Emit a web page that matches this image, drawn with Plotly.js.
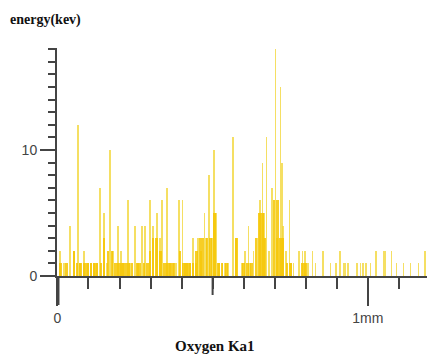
<!DOCTYPE html>
<html><head><meta charset="utf-8">
<script src="https://cdn.plot.ly/plotly-3.0.1.min.js"></script>
<style>html,body{margin:0;padding:0;background:#fff}#c{width:427px;height:358px}</style>
</head><body><div id="c"></div>
<script>
// Thin peaks: position (mm) and counts
const peakPos = [0.008,0.021,0.040,0.053,0.066,0.073,0.085,0.098,0.108,0.118,0.127,0.137,0.150,0.160,0.169,0.179,0.195,0.205,0.211,0.227,0.234,0.250,0.260,0.273,0.282,0.298,0.308,0.321,0.331,0.337,0.353,0.363,0.373,0.382,0.392,0.402,0.411,0.418,0.427,0.437,0.447,0.453,0.463,0.473,0.479,0.489,0.498,0.505,0.511,0.521,0.531,0.540,0.550,0.566,0.576,0.595,0.605,0.615,0.621,0.631,0.644,0.653,0.660,0.666,0.673,0.682,0.692,0.702,0.708,0.718,0.724,0.727,0.737,0.747,0.753,0.760,0.779,0.789,0.798,0.808,0.821,0.831,0.856,0.879,0.898,0.911,0.921,0.927,0.937,0.966,0.976,0.985,0.995,1.008,1.027,1.050,1.056,1.076,1.092,1.115,1.137,1.163,1.185];
const peakVal = [2,1,4,2,12,1,2,1,1,1,1,7,5,1,10,2,4,2,1,6,1,4,1,4,4,6,4,5,3,6,7,1,1,1,6,6,1,1,1,3,1,3,2,5,3,8,3,10,5,1,1,1,1,11,3,1,2,4,1,2,3,6,9,5,11,2,7,18,3,15,9,4,2,6,1,1,2,2,2,1,2,1,2,1,1,2,1,1,1,1,1,1,1,1,2,2,2,2,1,1,1,1,2];
// Dense low counts (saturated band)
const densePos = [0.010,0.030,0.053,0.063,0.075,0.088,0.098,0.108,0.118,0.127,0.140,0.150,0.163,0.176,0.186,0.195,0.202,0.212,0.221,0.230,0.240,0.256,0.265,0.279,0.289,0.298,0.308,0.318,0.331,0.344,0.355,0.365,0.375,0.395,0.405,0.415,0.425,0.437,0.447,0.460,0.469,0.482,0.492,0.505,0.520,0.530,0.545,0.576,0.600,0.612,0.625,0.640,0.650,0.660,0.669,0.698,0.708,0.718,0.727,0.740,0.750,0.790,0.800];
const denseVal = [1,1,2,1,1,1,1,1,1,1,1,3,2,2,1,1,1,1,1,1,1,1,1,1,1,2,3,3,2,1,1,1,1,2,1,1,1,1,2,3,3,3,3,5,1,1,1,3,1,1,1,3,5,5,3,6,6,3,3,1,1,1,1];
const xTickVals = [0,1];
const xTickText = ['0','1mm'];
const yTickVals = [0,10];

const traces = [
  {type:'bar', x:peakPos, y:peakVal, width:0.0045, marker:{color:'rgba(242,214,55,0.78)', line:{width:0}}, hoverinfo:'skip'},
  {type:'bar', x:densePos, y:denseVal, width:0.009, marker:{color:'rgba(246,198,0,0.85)', line:{width:0}}, hoverinfo:'skip'}
];
const tickFont = {family:'Liberation Sans, Arial, sans-serif', size:14, color:'#444'};
const layout = {
  width:427, height:358, showlegend:false, barmode:'overlay', bargap:0,
  paper_bgcolor:'#fff', plot_bgcolor:'#fff',
  margin:{l:57, r:0, t:48, b:82},
  xaxis:{range:[-0.0015,1.191], showgrid:false, zeroline:false, showline:true, linecolor:'#444', linewidth:2,
    tickmode:'array', tickvals:xTickVals, ticktext:xTickText, ticks:'outside', ticklen:28, tickwidth:2, tickcolor:'#444',
    tickfont:tickFont,
    minor:{dtick:0.1, tick0:0, ticks:'outside', ticklen:11, tickwidth:2, tickcolor:'#444', showgrid:false}},
  yaxis:{range:[0,18.1], showgrid:false, zeroline:false, showline:true, linecolor:'#444', linewidth:2,
    tickmode:'array', tickvals:yTickVals, ticks:'outside', ticklen:15, tickwidth:2, tickcolor:'#444',
    tickfont:tickFont,
    minor:{dtick:1, tick0:0, ticks:'outside', ticklen:7, tickwidth:2, tickcolor:'#444', showgrid:false}},
  shapes:[
    {type:'line', xref:'x', yref:'paper', x0:0.5, x1:0.5, y0:0, y1:-19/228, line:{color:'#444', width:2}},
    {type:'line', xref:'paper', yref:'paper', x0:0.004, x1:0.004, y0:0, y1:-29/228, line:{color:'#444', width:2}}
  ],
  annotations:[
    {text:'<b>energy(kev)</b>', xref:'paper', yref:'paper', x:-(57-8)/370, y:1+28/228, xanchor:'left', yanchor:'middle', showarrow:false,
     font:{family:'Liberation Serif, Times New Roman, serif', size:14, color:'#111'}},
    {text:'<b>Oxygen Ka1</b>', xref:'paper', yref:'paper', x:(215-57)/370, y:-(346-276)/228, xanchor:'center', yanchor:'middle', showarrow:false,
     font:{family:'Liberation Serif, Times New Roman, serif', size:15, color:'#111'}}
  ]
};
Plotly.newPlot('c', traces, layout, {displayModeBar:false, staticPlot:true});
</script></body></html>
